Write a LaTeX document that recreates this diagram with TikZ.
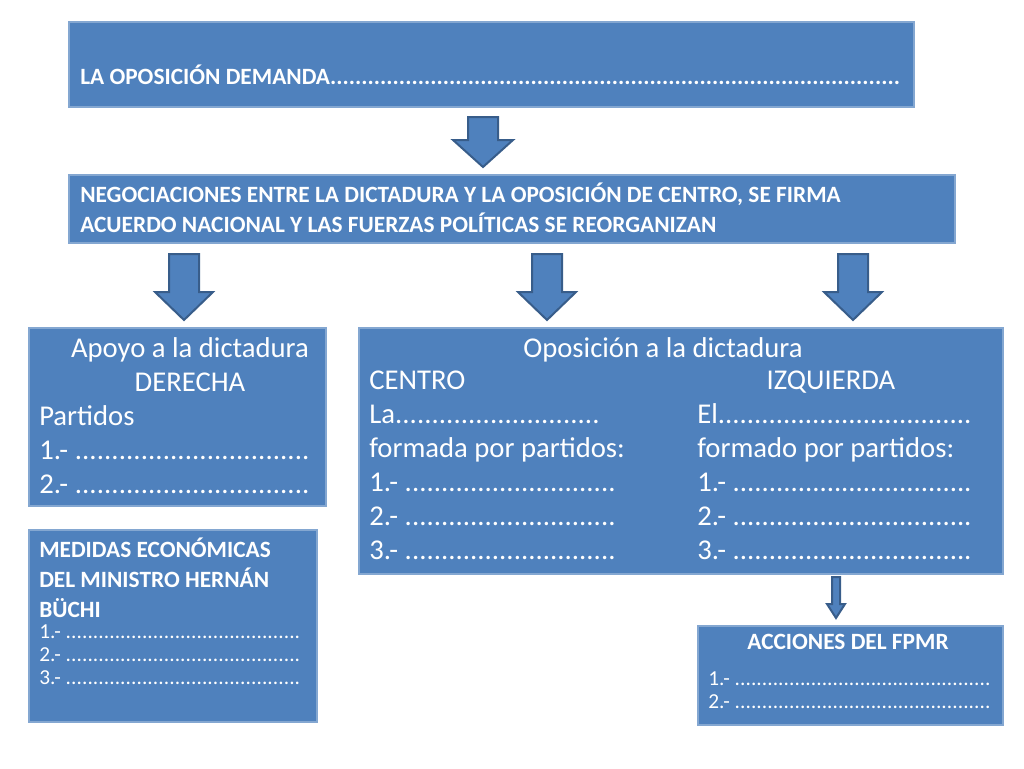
\documentclass[tikz,border=0pt]{standalone}
\usepackage{fontspec}
\setmainfont{Carlito}
\definecolor{boxc}{HTML}{4F81BD}
\definecolor{edgec}{HTML}{385D8A}
\newcommand\dl[2]{\makebox[#1][l]{#2\xleaders\hbox{.}\hfill}}
\newcommand\mydarrow[6]{% cx, top, headstart, tip, shaft half, head half
  \draw[arr] (#1-#5,#2) -- (#1+#5,#2) -- (#1+#5,#3) -- (#1+#6,#3) -- (#1,#4) -- (#1-#6,#3) -- (#1-#5,#3) -- cycle;}
\begin{document}
\begin{tikzpicture}[x=0.75pt,y=-0.75pt,
  box/.style={fill=boxc,draw=boxc!70!white,line width=0.8pt},
  arr/.style={fill=boxc,draw=edgec,line width=1.5pt,line join=miter},
  txt/.style={text=white,inner sep=0pt,align=left,anchor=north west},
  big/.style={txt,font=\fontsize{21.5}{25.5}\selectfont},
  small/.style={txt,font=\bfseries\fontsize{17.5}{22.5}\selectfont},
  dots/.style={txt,font=\fontsize{16}{17.3}\selectfont}]
\useasboundingbox (0,0) rectangle (1024,768);
\draw[box] (69,22) rectangle (914,107);
\node[small,anchor=west] (t1) at (80,75) {\dl{615pt}{LA OPOSICIÓN DEMANDA}};
\draw[box] (69,175) rectangle (955,243);
\node[small] (t2) at (80,183) {NEGOCIACIONES ENTRE LA DICTADURA Y LA OPOSICIÓN DE CENTRO, SE FIRMA\\ACUERDO NACIONAL Y LAS FUERZAS POLÍTICAS SE REORGANIZAN};
\draw[box] (29,328) rectangle (326,506);
\node[txt,font=\fontsize{21.5}{25.5}\selectfont,align=center,anchor=north] (a1) at (190,337) {Apoyo a la dictadura\\DERECHA};
\node[big] (a2) at (39,405) {Partidos\\\dl{203pt}{1.- }\\\dl{203pt}{2.- }};
\draw[box] (359,328) rectangle (1003,574);
\node[txt,font=\fontsize{21.5}{25.5}\selectfont,anchor=north] (o0) at (663,337) {Oposición a la dictadura};
\node[big] (o1) at (369,371) {CENTRO\\\dl{173pt}{La}\\formada por partidos:\\\dl{185pt}{1.- }\\\dl{185pt}{2.- }\\\dl{185pt}{3.- }};
\node[big] (o2) at (697,371) {\hspace*{52pt}IZQUIERDA\\\dl{206pt}{El}\\formado por partidos:\\\dl{206pt}{1.- }\\\dl{206pt}{2.- }\\\dl{206pt}{3.- }};
\draw[box] (29,530) rectangle (317,722);
\node[small] (m1) at (39,538) {MEDIDAS ECONÓMICAS\\DEL MINISTRO HERNÁN\\BÜCHI};
\node[dots] (m2) at (39,624) {\dl{196pt}{1.- }\\\dl{196pt}{2.- }\\\dl{196pt}{3.- }};
\draw[box] (698,626) rectangle (1003,725);
\node[small,anchor=north] (f1) at (848,634) {ACCIONES DEL FPMR};
\node[dots] (f2) at (708,671) {\dl{212pt}{1.- }\\\dl{212pt}{2.- }};
\mydarrow{483}{117}{140}{167}{15}{30}
\mydarrow{184}{254}{292}{320}{15}{29}
\mydarrow{547}{254}{292}{320}{15}{29}
\mydarrow{853}{254}{292}{320}{15}{29}
\mydarrow{836}{577}{604}{618}{4}{9}
\end{tikzpicture}
\end{document}
